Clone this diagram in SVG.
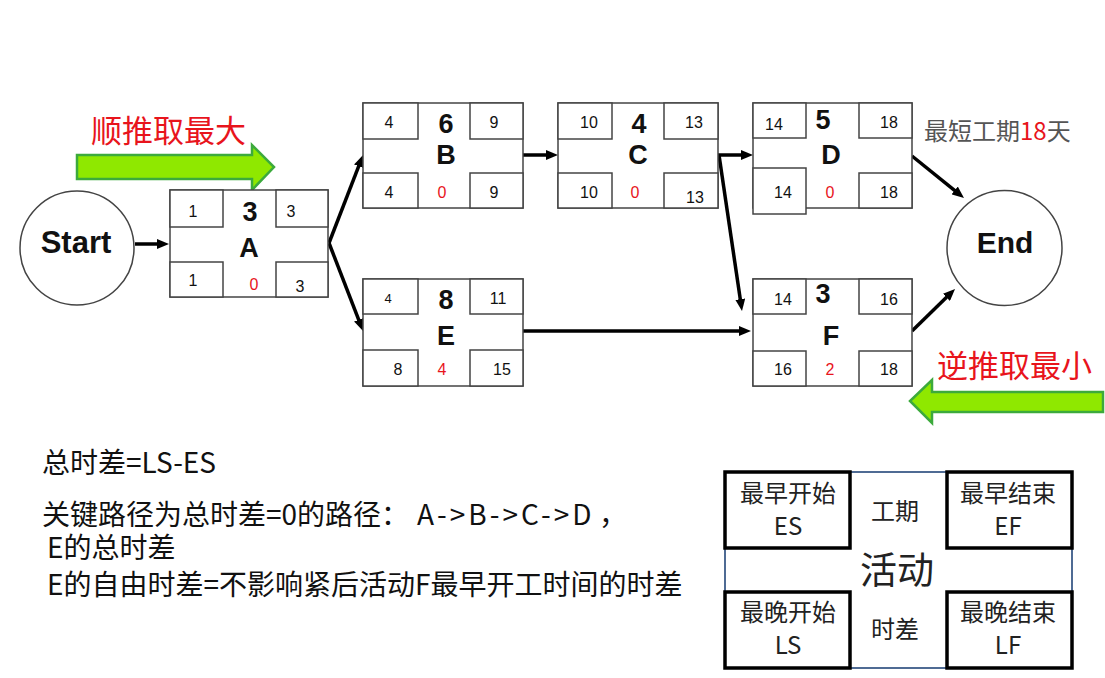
<svg xmlns="http://www.w3.org/2000/svg" width="1105" height="678" viewBox="0 0 1105 678">
<style>
.box{fill:#fff;stroke:#444;stroke-width:1.5}
.cell{fill:#fff;stroke:#444;stroke-width:1.5}
.num{font-family:"Liberation Sans",Arial,sans-serif;font-size:16px;fill:#111;text-anchor:middle}
.red{fill:#e8141c}
.big{font-family:"Liberation Sans",Arial,sans-serif;font-size:27px;font-weight:bold;fill:#111;text-anchor:middle}
.circ{fill:#fff;stroke:#444;stroke-width:1.5}
.cn{font-family:"Noto Sans CJK SC",sans-serif}
.conn{stroke:#000;stroke-width:3.5;fill:none;marker-end:url(#ah)}
.lg{fill:#fff;stroke:#000;stroke-width:3.5}
.lt{font-family:"Noto Sans CJK SC",sans-serif;font-size:24px;fill:#222;text-anchor:middle}
.garrow{fill:#8fe800;stroke:#3caa3c;stroke-width:2.5}
</style>
<defs>
<marker id="ah" viewBox="0 0 12 10" refX="3" refY="5" markerWidth="12" markerHeight="10" markerUnits="userSpaceOnUse" orient="auto"><path d="M0,0 L12,5 L0,10 z" fill="#000"/></marker>
</defs>

<!-- annotations -->
<text class="cn" x="91" y="142" font-size="31" fill="#e8141c">顺推取最大</text>
<polygon class="garrow" points="77,155 252,155 252,145 274,167 252,190 252,179 77,179"/>
<text class="cn" x="937" y="377" font-size="31" fill="#e8141c">逆推取最小</text>
<polygon class="garrow" points="1103,392 932,392 932,380 910,401 932,423 932,412 1103,412"/>
<text class="cn" x="924" y="140" font-size="24" fill="#555">最短工期<tspan fill="#e8141c">18</tspan>天</text>

<!-- connectors -->
<g id="connectors">
<line class="conn" x1="135" y1="244" x2="160" y2="244"/>
<line class="conn" x1="329" y1="243" x2="359.8" y2="163.4"/>
<line class="conn" x1="329" y1="243" x2="359.8" y2="322.6"/>
<line class="conn" x1="523" y1="155" x2="549" y2="155"/>
<line class="conn" x1="718" y1="155" x2="744" y2="155"/>
<line class="conn" x1="719" y1="155" x2="740.7" y2="302.1"/>
<line class="conn" x1="523" y1="331" x2="742" y2="331"/>
<line class="conn" x1="912" y1="156" x2="957" y2="192.3"/>
<line class="conn" x1="912" y1="331" x2="948.6" y2="295.3"/>
</g>

<g id="start">
<circle class="circ" cx="77" cy="248" r="57"/>
<text x="76" y="253" font-family="Liberation Sans,Arial,sans-serif" font-size="31" font-weight="bold" fill="#111" text-anchor="middle">Start</text>
</g>
<g id="end">
<circle class="circ" cx="1004.5" cy="248" r="57.5"/>
<text x="1005" y="253" font-family="Liberation Sans,Arial,sans-serif" font-size="30" font-weight="bold" fill="#111" text-anchor="middle">End</text>
</g>

<g id="nodeA">
<rect class="box" x="170" y="190" width="158" height="107"/>
<rect class="cell" x="170" y="190" width="53" height="37"/>
<rect class="cell" x="276" y="190" width="52" height="37"/>
<rect class="cell" x="170" y="262" width="53" height="35"/>
<rect class="cell" x="276" y="262" width="52" height="35"/>
<text class="num" x="193" y="217">1</text>
<text class="big" x="250" y="221">3</text>
<text class="num" x="291" y="217">3</text>
<text class="big" x="249" y="257">A</text>
<text class="num" x="193" y="286">1</text>
<text class="num red" x="254" y="290">0</text>
<text class="num" x="300" y="292">3</text>
</g>

<g id="nodeB">
<rect class="box" x="363" y="103" width="160" height="105"/>
<rect class="cell" x="363" y="103" width="55" height="36"/>
<rect class="cell" x="470" y="103" width="53" height="36"/>
<rect class="cell" x="363" y="173" width="55" height="35"/>
<rect class="cell" x="470" y="173" width="53" height="35"/>
<text class="num" x="389" y="128">4</text>
<text class="big" x="446" y="133">6</text>
<text class="num" x="494" y="128">9</text>
<text class="big" x="446" y="164">B</text>
<text class="num" x="389" y="198">4</text>
<text class="num red" x="442" y="198">0</text>
<text class="num" x="494" y="198">9</text>
</g>

<g id="nodeC">
<rect class="box" x="558" y="103" width="160" height="105"/>
<rect class="cell" x="558" y="103" width="54" height="36"/>
<rect class="cell" x="664" y="103" width="54" height="36"/>
<rect class="cell" x="558" y="173" width="54" height="35"/>
<rect class="cell" x="664" y="173" width="54" height="35"/>
<text class="num" x="589" y="128">10</text>
<text class="big" x="639" y="133">4</text>
<text class="num" x="694" y="128">13</text>
<text class="big" x="638" y="164">C</text>
<text class="num" x="589" y="198">10</text>
<text class="num red" x="635" y="198">0</text>
<text class="num" x="695" y="203">13</text>
</g>

<g id="nodeD">
<rect class="box" x="753" y="103" width="159" height="105"/>
<rect class="cell" x="753" y="103" width="53" height="35"/>
<rect class="cell" x="859" y="103" width="53" height="35"/>
<rect class="cell" x="753" y="168" width="53" height="46"/>
<rect class="cell" x="859" y="173" width="53" height="35"/>
<text class="num" x="774" y="130">14</text>
<text class="big" x="823" y="129">5</text>
<text class="num" x="889" y="128">18</text>
<text class="big" x="831" y="164">D</text>
<text class="num" x="783" y="198">14</text>
<text class="num red" x="830" y="198">0</text>
<text class="num" x="889" y="198">18</text>
</g>

<g id="nodeE">
<rect class="box" x="363" y="279" width="160" height="107"/>
<rect class="cell" x="363" y="279" width="55" height="35"/>
<rect class="cell" x="470" y="279" width="53" height="35"/>
<rect class="cell" x="363" y="350" width="55" height="36"/>
<rect class="cell" x="470" y="350" width="53" height="36"/>
<text class="num" x="388" y="303" style="font-size:13px">4</text>
<text class="big" x="446" y="309">8</text>
<text class="num" x="498" y="304">11</text>
<text class="big" x="446" y="345">E</text>
<text class="num" x="398" y="375">8</text>
<text class="num red" x="442" y="375">4</text>
<text class="num" x="502" y="375">15</text>
</g>

<g id="nodeF">
<rect class="box" x="753" y="279" width="159" height="107"/>
<rect class="cell" x="753" y="279" width="53" height="35"/>
<rect class="cell" x="859" y="279" width="53" height="35"/>
<rect class="cell" x="753" y="351" width="53" height="35"/>
<rect class="cell" x="859" y="351" width="53" height="35"/>
<text class="num" x="783" y="305">14</text>
<text class="big" x="823" y="303">3</text>
<text class="num" x="889" y="305">16</text>
<text class="big" x="831" y="345">F</text>
<text class="num" x="783" y="375">16</text>
<text class="num red" x="830" y="375">2</text>
<text class="num" x="889" y="375">18</text>
</g>

<!-- notes -->
<g id="notes" class="cn" font-size="28" fill="#111">
<text x="42" y="473">总时差=LS-ES</text>
<text x="42" y="525">关键路径为总时差=0的路径：<tspan x="417" letter-spacing="3">A-&gt;B-&gt;C-&gt;D</tspan><tspan x="599">，</tspan></text>
<text x="47" y="558">E的总时差</text>
<text x="47" y="595">E的自由时差=不影响紧后活动F最早开工时间的时差</text>
</g>

<!-- legend -->
<g id="legend">
<rect x="725" y="472" width="347" height="196" fill="#fff" stroke="#4f6b94" stroke-width="2"/>
<rect class="lg" x="725" y="472" width="125" height="76"/>
<rect class="lg" x="947" y="472" width="125" height="76"/>
<rect class="lg" x="725" y="592" width="125" height="76"/>
<rect class="lg" x="947" y="592" width="125" height="76"/>
<text class="lt" x="788" y="502">最早开始</text>
<text class="lt" x="788" y="535">ES</text>
<text class="lt" x="895" y="520">工期</text>
<text class="lt" x="1008" y="502">最早结束</text>
<text class="lt" x="1008" y="535">EF</text>
<text class="lt" x="897" y="584" style="font-size:37px">活动</text>
<text class="lt" x="788" y="621">最晚开始</text>
<text class="lt" x="788" y="654">LS</text>
<text class="lt" x="895" y="638">时差</text>
<text class="lt" x="1008" y="621">最晚结束</text>
<text class="lt" x="1008" y="654">LF</text>
</g>
</svg>
